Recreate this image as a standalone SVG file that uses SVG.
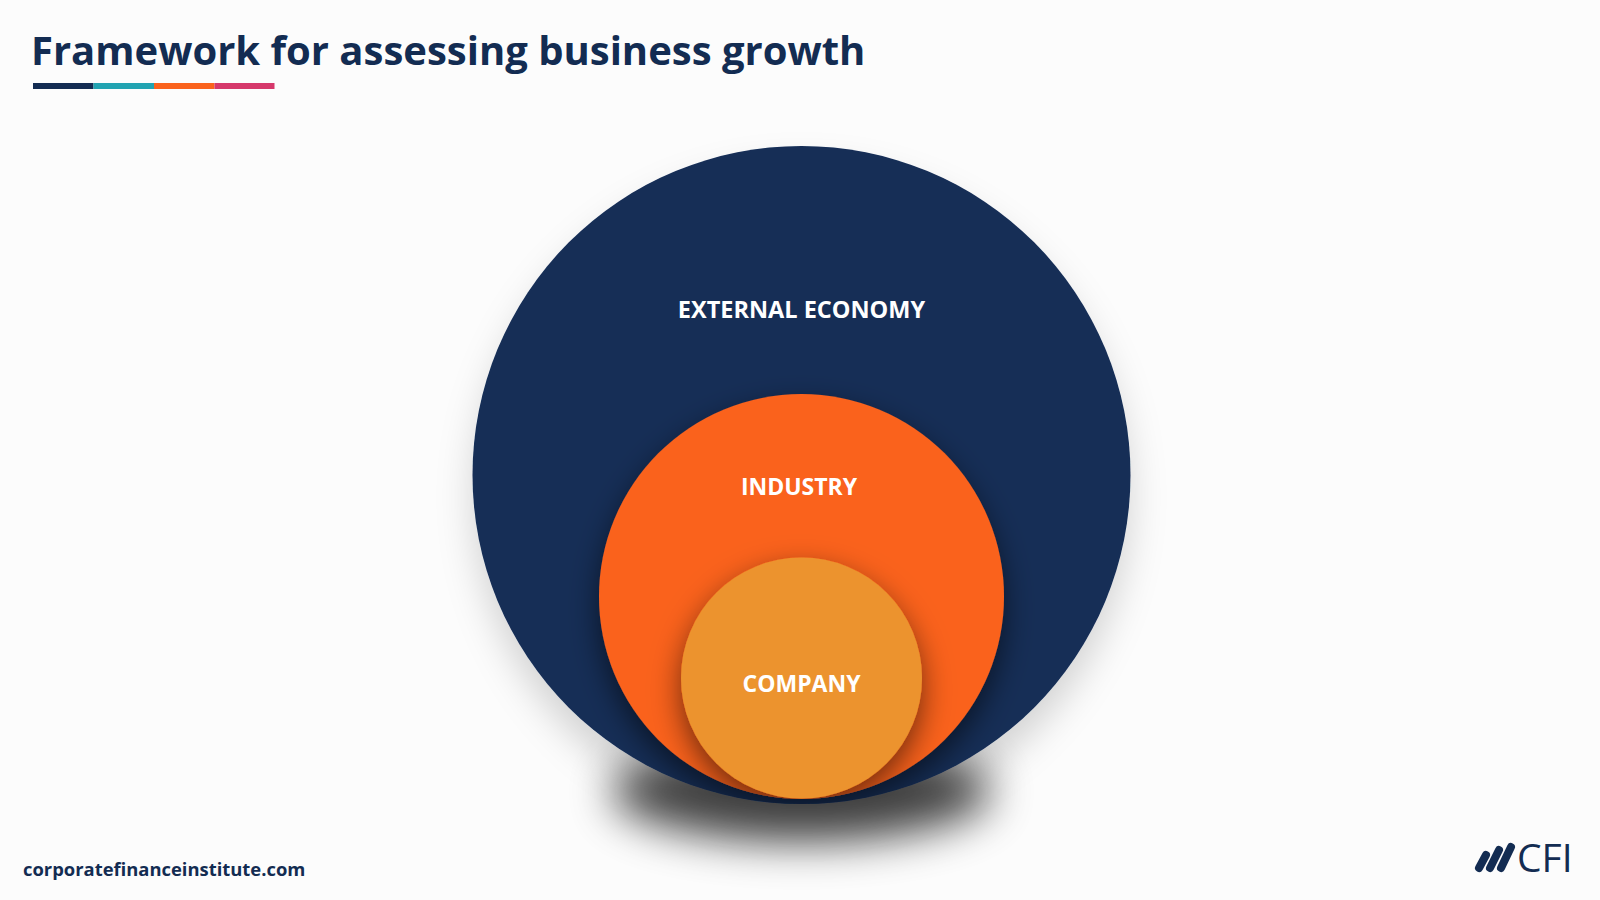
<svg xmlns="http://www.w3.org/2000/svg" width="1600" height="900" viewBox="0 0 1600 900">
  <style>
    .title { font-family: "Open Sans", "Liberation Sans", sans-serif; font-weight: 700; fill: #132c52; }
    .label { font-family: "Open Sans", "Liberation Sans", sans-serif; font-weight: 700; fill: #ffffff; text-anchor: middle; }
    .footer { font-family: "Open Sans", "Liberation Sans", sans-serif; font-weight: 700; fill: #132c52; }
    .logo { font-family: "Open Sans", "Liberation Sans", sans-serif; font-weight: 400; fill: #132c52; }
  </style>
  <defs>
    <filter id="bigShadow" x="-50%" y="-80%" width="200%" height="260%">
      <feGaussianBlur stdDeviation="22"/>
    </filter>
    <filter id="softShadow" x="-30%" y="-30%" width="160%" height="160%">
      <feDropShadow dx="0" dy="12" stdDeviation="15" flood-color="#000000" flood-opacity="0.55"/>
    </filter>
    <filter id="ringShadow" x="-30%" y="-30%" width="160%" height="160%">
      <feDropShadow dx="0" dy="22" stdDeviation="18" flood-color="#000000" flood-opacity="0.16"/>
    </filter>
    <clipPath id="clipBig"><circle cx="801.5" cy="475" r="329"/></clipPath>
    <clipPath id="clipInd"><circle cx="801.5" cy="596.5" r="202.5"/></clipPath>
  </defs>

  <rect x="0" y="0" width="1600" height="900" fill="#fcfcfc"/>

  <g id="header">
    <text class="title" x="31" y="64.5" font-size="40">Framework for assessing business growth</text>
    <rect x="33" y="83" width="60.5" height="6" fill="#132c52"/>
    <rect x="93.5" y="83" width="60.5" height="6" fill="#21a3b1"/>
    <rect x="154" y="83" width="60.5" height="6" fill="#fa621c"/>
    <rect x="214.5" y="83" width="60" height="6" fill="#d6386b"/>
  </g>

  <g id="external-economy">
    <ellipse cx="801.5" cy="792" rx="190" ry="50" fill="#000000" opacity="0.7" filter="url(#bigShadow)"/>
    <circle cx="801.5" cy="475" r="329" fill="#142d56" filter="url(#ringShadow)"/>
    <text class="label" x="801.5" y="318" font-size="23.5">EXTERNAL ECONOMY</text>
  </g>

  <g id="industry">
    <circle cx="801.5" cy="596.5" r="202.5" fill="#fa621c" filter="url(#softShadow)" clip-path="url(#clipBig)"/>
    <text class="label" x="799" y="495" font-size="23">INDUSTRY</text>
  </g>

  <g id="company">
    <circle cx="801.5" cy="678" r="120.5" fill="#ec932d" filter="url(#softShadow)" clip-path="url(#clipInd)"/>
    <text class="label" x="801.5" y="692" font-size="23">COMPANY</text>
  </g>

  <g id="connectors"/>

  <g id="footer">
    <text class="footer" x="23" y="876" font-size="18.4">corporatefinanceinstitute.com</text>
  </g>

  <g id="cfi-logo" stroke="#132c52" stroke-width="8" stroke-linecap="round">
    <line x1="1479" y1="868" x2="1486" y2="855"/>
    <line x1="1490" y1="868" x2="1499" y2="850"/>
    <line x1="1501" y1="868" x2="1511" y2="847"/>
    <text class="logo" x="1517" y="872" font-size="39" stroke="none">CFI</text>
  </g>
</svg>
